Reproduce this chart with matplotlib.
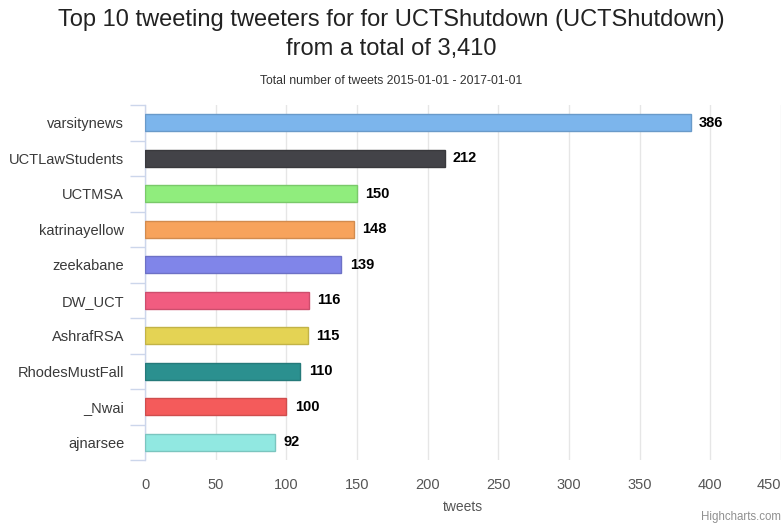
import matplotlib
matplotlib.use("Agg")
import matplotlib.pyplot as plt
import numpy as np

plt.rcParams['font.family'] = ['Liberation Sans', 'DejaVu Sans']

users = ['varsitynews', 'UCTLawStudents', 'UCTMSA', 'katrinayellow', 'zeekabane',
         'DW_UCT', 'AshrafRSA', 'RhodesMustFall', '_Nwai', 'ajnarsee']
tweets = [386, 212, 150, 148, 139, 116, 115, 110, 100, 92]
colors = ['#7cb5ec', '#434348', '#90ed7d', '#f7a35c', '#8085e9',
          '#f15c80', '#e4d354', '#2b908f', '#f45b5b', '#91e8e1']
xticks = [0, 50, 100, 150, 200, 250, 300, 350, 400, 450]

fig = plt.figure(figsize=(7.82, 5.25), dpi=100)
ax = fig.add_axes([145 / 782, 1 - 460 / 525, 636 / 782, 355 / 525])

y = np.arange(len(users))
edge = [matplotlib.colors.to_rgba(c) for c in colors]
edge = [(r * 0.85, g * 0.85, b * 0.85, 1) for r, g, b, a in edge]
ax.barh(y, tweets, height=0.48, color=colors, edgecolor=edge, linewidth=1, zorder=3)

for yi, v in zip(y, tweets):
    ax.annotate(str(v), (v, yi), xytext=(6, 0), textcoords='offset points',
                va='center', ha='left', fontsize=10.5, fontweight='bold',
                color='#000000')

ax.set_ylim(len(users) - 0.5, -0.5)
ax.set_xlim(0, 450)
ax.set_xticks(xticks)
ax.set_xticklabels([str(t) for t in xticks], fontsize=10.5, color='#555555')
ax.get_xticklabels()[-1].set_horizontalalignment('right')
ax.set_yticks(y)
ax.set_yticklabels(users, fontsize=10.5, color='#3a3a3a')
ax.tick_params(axis='y', length=0, pad=15)
ax.tick_params(axis='x', length=0, pad=13)

# category boundary ticks
ax.set_yticks(np.arange(-0.5, len(users), 1), minor=True)
ax.tick_params(axis='y', which='minor', length=11, color='#ccd6eb', width=1)

ax.grid(axis='x', color='#e6e6e6', linewidth=1, zorder=0)
for s in ['top', 'right', 'bottom']:
    ax.spines[s].set_visible(False)
ax.spines['left'].set_color('#ccd6eb')
ax.spines['left'].set_linewidth(1)

ax.set_xlabel('tweets', fontsize=10, color='#555555', labelpad=6)

fig.text(0.5, 1 - 20 / 525, 'Top 10 tweeting tweeters for for UCTShutdown (UCTShutdown)',
         ha='center', va='center', fontsize=17, color='#222222')
fig.text(0.5, 1 - 49 / 525, 'from a total of 3,410',
         ha='center', va='center', fontsize=17, color='#222222')
fig.text(0.5, 1 - 81 / 525, 'Total number of tweets 2015-01-01 - 2017-01-01',
         ha='center', va='center', fontsize=8.8, color='#333333')
fig.text(781 / 782, 1 - 517 / 525, 'Highcharts.com', ha='right', va='center',
         fontsize=8.3, color='#909090')

fig.savefig('out.png', dpi=100)
